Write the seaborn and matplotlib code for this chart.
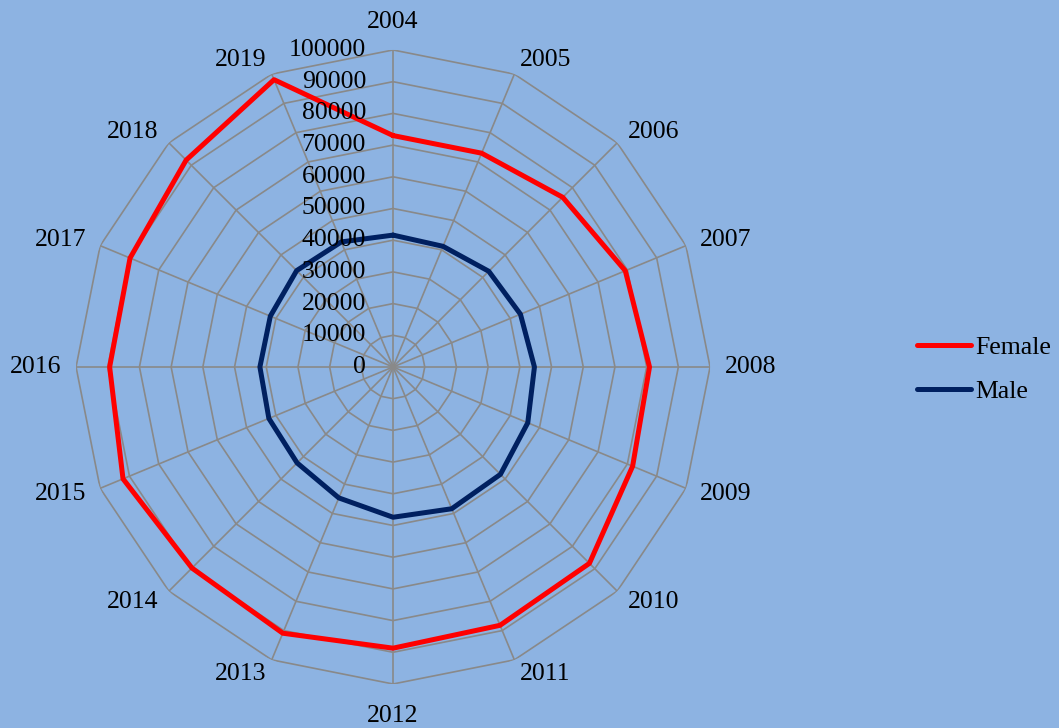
import numpy as np
import pandas as pd
import seaborn as sns
import matplotlib.pyplot as plt
from matplotlib import transforms

years = [str(y) for y in range(2004, 2020)]
female = [73000, 73000, 75700, 79300, 80900, 81800, 87600, 88200,
          88700, 90900, 89700, 92200, 89400, 89800, 92300, 98100]
male = [41600, 41200, 42700, 43500, 44600, 46000, 47900, 48400,
        47400, 44700, 42800, 42400, 42000, 41900, 43000, 42700]
ring_levels = list(range(0, 100001, 10000))

BG = '#8DB3E2'
GRID = '#898989'
FONT = ['Liberation Serif', 'DejaVu Serif']
FS = 18.5

sns.set_style('white')
plt.rcParams['font.family'] = FONT
plt.rcParams['text.color'] = 'black'

n = len(years)
theta = np.linspace(0, 2 * np.pi, n, endpoint=False)
theta_closed = np.append(theta, theta[0])

rows = []
for name, vals in [('Female', female), ('Male', male)]:
    for t, v in zip(theta_closed, vals + vals[:1]):
        rows.append({'theta': t, 'value': v, 'series': name})
df = pd.DataFrame(rows)

fig = plt.figure(figsize=(10.59, 7.28), dpi=100, facecolor=BG)
ax = fig.add_axes([0.0718, 0.0604, 0.5987, 0.871], projection='polar')
ax.set_facecolor('none')
ax.set_theta_zero_location('N')
ax.set_theta_direction(-1)
ax.set_ylim(0, 100000)
ax.grid(False)
ax.spines['polar'].set_visible(False)
ax.set_xticks([])
ax.set_yticks([])

# polygon gridlines and spokes
for r in ring_levels[1:]:
    ax.plot(theta_closed, [r] * (n + 1), color=GRID, lw=1.2, zorder=1)
for t in theta:
    ax.plot([t, t], [0, 100000], color=GRID, lw=1.2, zorder=1)

sns.lineplot(data=df, x='theta', y='value', hue='series',
             palette={'Female': '#FF0000', 'Male': '#002060'},
             sort=False, estimator=None, linewidth=3.6, ax=ax, zorder=3)
ax.set_xlabel('')
ax.set_ylabel('')

# radial value labels along the 2004 axis
off = transforms.offset_copy(ax.transData, fig=fig, x=-27, y=0, units='dots')
for r in ring_levels:
    ax.text(0, r, str(r), transform=off, ha='right', va='center',
            fontsize=FS, color='black', zorder=4)

# category labels, anchored just outside the outer ring
for t, lab in zip(theta, years):
    s, c = np.sin(t), np.cos(t)
    ha = 'left' if s > 0.01 else ('right' if s < -0.01 else 'center')
    if c > 0.99:
        va, r_px = 'bottom', 334
    elif c < -0.99:
        va, r_px = 'top', 338
    else:
        va, r_px = 'center', 332
    ax.text(t, r_px / 317 * 100000, lab, ha=ha, va=va, fontsize=FS,
            color='black')

ax.legend_.remove()
handles, labels = ax.get_legend_handles_labels()
fig.legend(handles, labels, loc='center left', bbox_to_anchor=(0.866, 0.492),
           frameon=False, fontsize=FS, handlelength=2.1, handletextpad=0.15,
           labelspacing=0.83, borderpad=0, borderaxespad=0)

fig.savefig('out.png', dpi=100, facecolor=BG)
